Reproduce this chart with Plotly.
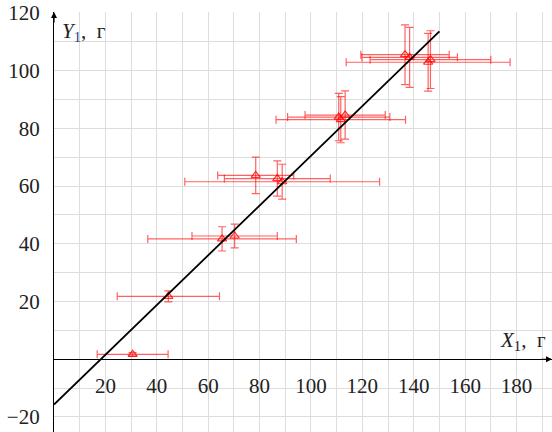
import plotly.graph_objects as go

# Data
x_vals = [30.6, 44.5, 65.4, 70.3, 78.5, 86.9, 88.8, 110.8, 111.6, 113.3, 136.6, 138.4, 145.6, 146.5]
y_vals = [1.7, 21.8, 41.7, 42.7, 63.7, 62.6, 61.5, 83.9, 83.0, 84.6, 105.5, 104.6, 102.9, 103.8]
x_err = [13.8, 19.9, 28.9, 16.6, 14.8, 20.6, 37.9, 19.9, 25.2, 15.6, 17.2, 18.6, 31.9, 23.5]
y_err = [0.6, 1.9, 4.2, 4.1, 6.3, 6.1, 6.05, 8.2, 8.0, 8.35, 10.35, 10.4, 10.0, 10.0]

fit_slope = 0.862
fit_intercept = -15.7
fit_x = [0, 150]
fit_y = [fit_slope * v + fit_intercept for v in fit_x]

x_tick_vals = list(range(0, 191, 10))
x_tick_text = [str(v) if (v % 20 == 0 and v != 0) else "" for v in x_tick_vals]
y_tick_vals = list(range(-20, 121, 10))
y_tick_text = [("\u2212" + str(-v) if v < 0 else str(v)) if (v % 20 == 0 and v != 0) else "" for v in y_tick_vals]

X_RANGE = [0, 193.8]
Y_RANGE = [-25.2, 120.3]

font_family = "Liberation Serif"
err_color = "rgba(255,0,0,0.62)"

fig = go.Figure()
fig.add_trace(go.Scatter(
    x=x_vals, y=y_vals, mode="markers",
    marker=dict(symbol="triangle-up-open", size=8, color="rgba(255,0,0,0.8)",
                line=dict(width=1.2, color="rgba(255,0,0,0.8)")),
    error_x=dict(type="data", array=x_err, visible=True, color=err_color, thickness=1.2, width=4),
    error_y=dict(type="data", array=y_err, visible=True, color=err_color, thickness=1.2, width=4),
    hoverinfo="skip", showlegend=False,
))
fig.add_trace(go.Scatter(
    x=fit_x, y=fit_y, mode="lines",
    line=dict(color="black", width=1.8),
    hoverinfo="skip", showlegend=False,
))

zero_frac = (0 - Y_RANGE[0]) / (Y_RANGE[1] - Y_RANGE[0])

fig.update_layout(
    width=552, height=432,
    margin=dict(l=54, r=0, t=12, b=0),
    paper_bgcolor="white", plot_bgcolor="white",
    font=dict(family=font_family, size=21, color="#222"),
    xaxis=dict(
        range=X_RANGE, tickmode="array", tickvals=x_tick_vals, ticktext=x_tick_text,
        showgrid=True, gridcolor="#dddddd", gridwidth=1, zeroline=False,
        showline=True, linecolor="black", linewidth=1.2,
        anchor="free", position=zero_frac,
        ticks="", ticklabelstandoff=7,
        tickfont=dict(family=font_family, size=21, color="#222"),
    ),
    yaxis=dict(
        range=Y_RANGE, tickmode="array", tickvals=y_tick_vals, ticktext=y_tick_text,
        showgrid=True, gridcolor="#dddddd", gridwidth=1, zeroline=False,
        showline=True, linecolor="black", linewidth=1.2,
        ticks="", ticklabelstandoff=9,
        tickfont=dict(family=font_family, size=21, color="#222"),
    ),
)

# Axis arrows
fig.add_annotation(x=X_RANGE[1], y=0, xref="x", yref="y", ax=-12, ay=0,
                   showarrow=True, arrowhead=2, arrowsize=1, arrowwidth=1.2,
                   arrowcolor="black", text="")
fig.add_annotation(x=0, y=Y_RANGE[1], xref="x", yref="y", ax=0, ay=12,
                   showarrow=True, arrowhead=2, arrowsize=1, arrowwidth=1.2,
                   arrowcolor="black", text="")

# Axis labels
fig.add_annotation(x=0, y=Y_RANGE[1], xref="x", yref="y", xanchor="left", yanchor="top",
                   xshift=6, yshift=-5, showarrow=False,
                   text="<i>Y</i><sub><span style='color:#2a3f80'>1</span></sub>,  г",
                   font=dict(family=font_family, size=21, color="#222"))
fig.add_annotation(x=X_RANGE[1], y=0, xref="x", yref="y", xanchor="right", yanchor="bottom",
                   xshift=-4, yshift=3, showarrow=False,
                   text="<i>X</i><sub>1</sub>,  г",
                   font=dict(family=font_family, size=21, color="#222"))

fig.write_html("out.html")
